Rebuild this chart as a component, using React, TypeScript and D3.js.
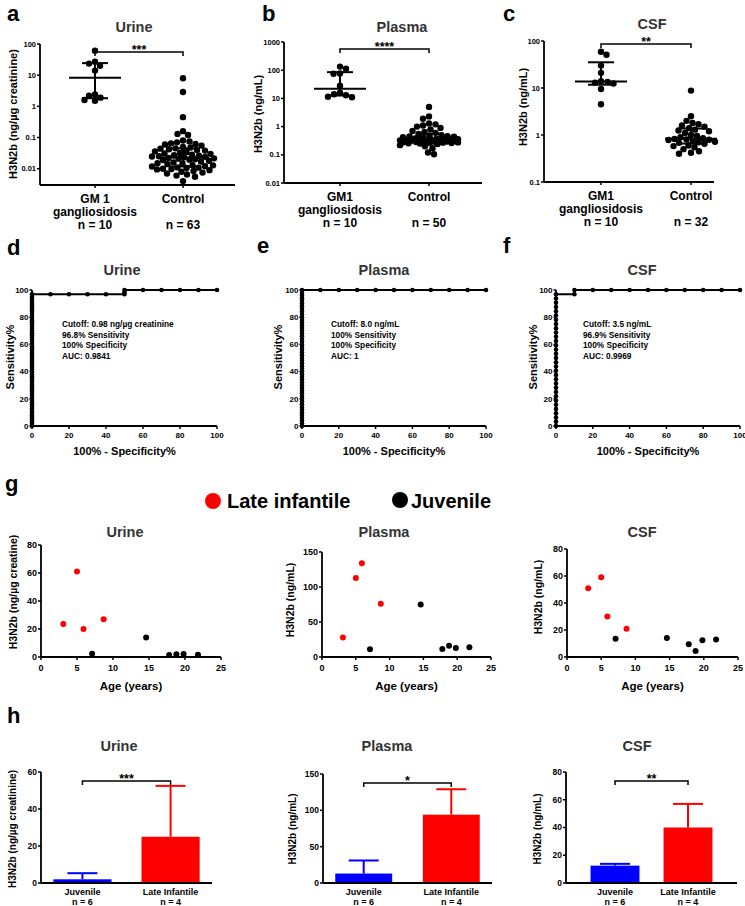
import React from 'react';
import * as d3 from 'd3';

const FONT = "'Liberation Sans', Arial, Helvetica, sans-serif";
const RED = '#ff0000';
const BLUE = '#0000ff';

// GM1 patients, same order in every specimen (4 late infantile, then 6 juvenile)
const patientType = ['Late infantile', 'Late infantile', 'Late infantile', 'Late infantile',
  'Juvenile', 'Juvenile', 'Juvenile', 'Juvenile', 'Juvenile', 'Juvenile'];
const patientAge = [3.1, 5.0, 5.9, 8.7, 7.1, 14.6, 17.8, 18.8, 19.8, 21.8];
const urinePatients = [23.5, 61, 20, 27, 2.4, 14, 1.5, 1.9, 2.2, 1.6];
const plasmaPatients = [28, 113, 134, 76, 11, 75, 11.5, 16, 13, 14];
const csfPatients = [51, 59, 30, 21, 13.5, 14, 9.5, 4.5, 12.5, 13];

// controls
const urineControls = [8.0, 2.9, 0.45, 0.16, 0.13, 0.12, 0.08, 0.075, 0.07, 0.065,
  0.062, 0.06, 0.055, 0.05, 0.048, 0.045, 0.044, 0.042, 0.04, 0.038,
  0.036, 0.034, 0.032, 0.031, 0.03, 0.028, 0.027, 0.026, 0.025, 0.0245,
  0.024, 0.023, 0.022, 0.0215, 0.021, 0.02, 0.0195, 0.019, 0.018, 0.017,
  0.016, 0.015, 0.0148, 0.014, 0.013, 0.0128, 0.012, 0.0118, 0.011, 0.0108,
  0.0105, 0.01, 0.0098, 0.0095, 0.009, 0.0085, 0.008, 0.0075, 0.007, 0.0065,
  0.006, 0.0055, 0.004];
const plasmaControls = [5.0, 2.3, 1.9, 1.3, 1.2, 1.1, 1.0, 0.9, 0.8, 0.7,
  0.65, 0.6, 0.55, 0.5, 0.48, 0.46, 0.45, 0.44, 0.42, 0.4,
  0.38, 0.37, 0.36, 0.35, 0.345, 0.34, 0.335, 0.33, 0.325, 0.32,
  0.315, 0.31, 0.305, 0.3, 0.295, 0.29, 0.285, 0.28, 0.275, 0.27,
  0.265, 0.26, 0.255, 0.25, 0.24, 0.22, 0.2, 0.17, 0.12, 0.105];
const csfControls = [8.8, 2.5, 2.0, 1.8, 1.7, 1.6, 1.5, 1.4, 1.3, 1.25,
  1.2, 1.1, 1.0, 0.95, 0.9, 0.85, 0.82, 0.8, 0.79, 0.78,
  0.75, 0.72, 0.7, 0.68, 0.65, 0.6, 0.58, 0.55, 0.5, 0.45,
  0.42, 0.4];

const cohorts = ['GM1', 'Control'];
const urineLogTicks = [0.01, 0.1, 1, 10, 100];
const plasmaLogTicks = [0.01, 0.1, 1, 10, 100, 1000];
const csfLogTicks = [0.1, 1, 10, 100];
const rocTicks = [0, 20, 40, 60, 80, 100];
const ageTicks = [0, 5, 10, 15, 20, 25];

const urineNotes = ['Cutoff: 0.98 ng/µg creatinine', '96.8% Sensitivity', '100% Specificity', 'AUC: 0.9841'];
const plasmaNotes = ['Cutoff: 8.0 ng/mL', '100% Sensitivity', '100% Specificity', 'AUC: 1'];
const csfNotes = ['Cutoff: 3.5 ng/mL', '96.9% Sensitivity', '100% Specificity', 'AUC: 0.9969'];

// panel h: mean and SD by subtype
const barGroups = ['Juvenile', 'Late Infantile'];
const barN = ['n = 6', 'n = 4'];
const urineMean = [2.0, 25];
const urineSD = [3.3, 27.5];
const plasmaMean = [13, 94];
const plasmaSD = [18, 35];
const csfMean = [12.5, 40];
const csfSD = [1.3, 17];

// Prism style quartile ((n+1)p)
function quart(s: number[], p: number) {
  const n = s.length;
  const pos = (n + 1) * p;
  const lo = Math.floor(pos);
  if (lo < 1) return s[0];
  if (lo >= n) return s[n - 1];
  return s[lo - 1] + (pos - lo) * (s[lo] - s[lo - 1]);
}

// beeswarm around cx, kept within +-maxW (points may overlap when crowded)
function swarm(values: number[], y: any, cx: number, r: number, maxW: number) {
  const pts = values.map(v => ({ v, x: cx, y: y(v) })).sort((a, b) => a.y - b.y);
  const placed: any[] = [];
  const minD = 2 * r * 0.95;
  const offs = d3.range(-maxW, maxW + 0.01, 0.5);
  pts.forEach((p, i) => {
    const order = offs.slice().sort((a, b) => Math.abs(a) - Math.abs(b) || (i % 2 ? b - a : a - b));
    const gap = (o: number) => d3.min(placed, q => Math.hypot(q.x - cx - o, q.y - p.y)) ?? Infinity;
    let hit = order.find(o => gap(o) >= minD);
    if (hit === undefined) hit = d3.greatest(order, o => gap(o)) as number;
    p.x = cx + hit;
    placed.push(p);
  });
  return placed;
}

// ROC points from the two groups
function rocPoints(patients: number[], controls: number[]) {
  const ts = Array.from(new Set([...patients, ...controls])).sort(d3.ascending);
  ts.push(Infinity);
  const out: [number, number][] = [];
  ts.forEach(t => {
    const fpr = patients.filter(v => v < t).length / patients.length * 100;
    const sens = controls.filter(v => v < t).length / controls.length * 100;
    const last = out[out.length - 1];
    if (!last || last[0] !== fpr || last[1] !== sens) out.push([fpr, sens]);
  });
  return out;
}

const Letter = ({ x, y, t }: any) => (
  <text x={x} y={y} fontSize={22} fontWeight="bold">{t}</text>
);
const Title = ({ x, y, t }: any) => (
  <text x={x} y={y} fontSize={14.5} fontWeight="bold" fill="#333" textAnchor="middle">{t}</text>
);
const YLabel = ({ x, y, t, size = 11 }: any) => (
  <text transform={`translate(${x},${y}) rotate(-90)`} dy="0.35em" textAnchor="middle"
    fontSize={size} fontWeight="bold">{t}</text>
);

function YAxis({ scale, x, ticks, size, fmt = String, len = 3 }: any) {
  const [r0, r1] = scale.range();
  return (
    <g>
      <line x1={x} x2={x} y1={r0} y2={r1} stroke="#000" strokeWidth={1.8} />
      {ticks.map((t: number) => (
        <g key={t}>
          <line x1={x - len} x2={x} y1={scale(t)} y2={scale(t)} stroke="#000" strokeWidth={1.5} />
          <text x={x - len - 1} y={scale(t)} dy="0.35em" textAnchor="end" fontSize={size} fontWeight="bold">{fmt(t)}</text>
        </g>
      ))}
    </g>
  );
}

function LogDotPanel({ p }: any) {
  const y = d3.scaleLog().domain(p.domain).range([p.yBottom, p.yTop]);
  const x = d3.scalePoint().domain(cohorts).range(p.centers);
  const groups = [p.patients, p.controls];
  const [ca, cb] = p.centers;
  return (
    <g>
      <Letter x={p.lx} y={p.ly} t={p.letter} />
      <Title x={p.tx} y={p.ty} t={p.title} />
      <YLabel x={p.ylx} y={p.yly} t={p.yLabel} />
      {groups.map((vals: number[], i: number) => {
        const cx = x(cohorts[i]) as number;
        const s = vals.slice().sort(d3.ascending);
        const med = quart(s, 0.5), q1 = quart(s, 0.25), q3 = quart(s, 0.75);
        return (
          <g key={i}>
            {swarm(vals, y, cx, 3.2, p.maxW).map((d, j) => <circle key={j} cx={d.x} cy={d.y} r={3.2} fill="#000" />)}
            <line x1={cx - 26} x2={cx + 26} y1={y(med)} y2={y(med)} stroke="#000" strokeWidth={2} />
            <line x1={cx} x2={cx} y1={y(q1)} y2={y(q3)} stroke="#000" strokeWidth={2} />
            <line x1={cx - 13} x2={cx + 13} y1={y(q1)} y2={y(q1)} stroke="#000" strokeWidth={2} />
            <line x1={cx - 13} x2={cx + 13} y1={y(q3)} y2={y(q3)} stroke="#000" strokeWidth={2} />
          </g>
        );
      })}
      <YAxis scale={y} x={p.x0} ticks={p.ticks} size={7.5} />
      <line x1={p.x0} x2={p.x1} y1={p.yBottom} y2={p.yBottom} stroke="#000" strokeWidth={1.8} />
      {p.catLabels.map((lines: string[], i: number) => {
        const cx = x(cohorts[i]) as number;
        return (
          <g key={i}>
            <line x1={cx} x2={cx} y1={p.yBottom} y2={p.yBottom + 3} stroke="#000" strokeWidth={1.5} />
            {lines.map((t, k) => (
              <text key={k} x={cx} y={p.yBottom + 18 + k * 12.5} textAnchor="middle" fontSize={12} fontWeight="bold">{t}</text>
            ))}
            <text x={cx} y={p.yBottom + 44} textAnchor="middle" fontSize={12} fontWeight="bold">{`n = ${groups[i].length}`}</text>
          </g>
        );
      })}
      <path d={`M${ca},${p.sigY + 4}V${p.sigY}H${cb}V${p.sigY + 4}`} fill="none" stroke="#000" strokeWidth={1.5} />
      <text x={(ca + cb) / 2} y={p.sigY + 1.5} textAnchor="middle" fontSize={12.5} fontWeight="bold">{p.sig}</text>
    </g>
  );
}

function RocPanel({ p }: any) {
  const x = d3.scaleLinear().domain([0, 100]).range([p.x0, p.x1]);
  const y = d3.scaleLinear().domain([0, 100]).range([p.yBottom, p.yTop]);
  const pts = rocPoints(p.patients, p.controls);
  const line = d3.line<[number, number]>().x(d => x(d[0])).y(d => y(d[1]));
  return (
    <g>
      <Letter x={p.lx} y={p.ly} t={p.letter} />
      <Title x={p.tx} y={p.ty} t={p.title} />
      <YLabel x={p.ylx} y={357} t="Sensitivity%" />
      <path d={line(pts) as string} fill="none" stroke="#000" strokeWidth={2} />
      {pts.map((d, i) => <circle key={i} cx={x(d[0])} cy={y(d[1])} r={2.3} fill="#000" />)}
      <YAxis scale={y} x={p.x0} ticks={rocTicks} size={8} len={2.5} />
      <line x1={p.x0} x2={p.x1} y1={p.yBottom} y2={p.yBottom} stroke="#000" strokeWidth={1.8} />
      {rocTicks.map(t => (
        <g key={t}>
          <line x1={x(t)} x2={x(t)} y1={p.yBottom} y2={p.yBottom + 3} stroke="#000" strokeWidth={1.5} />
          <text x={x(t)} y={p.yBottom + 11.5} textAnchor="middle" fontSize={8} fontWeight="bold">{t}</text>
        </g>
      ))}
      <text x={(p.x0 + p.x1) / 2} y={455} textAnchor="middle" fontSize={11} fontWeight="bold">100% - Specificity%</text>
      {p.notes.map((t: string, i: number) => (
        <text key={i} x={p.nx} y={327 + i * 10.5} fontSize={8.3} fontWeight="bold">{t}</text>
      ))}
    </g>
  );
}

function AgePanel({ p }: any) {
  const x = d3.scaleLinear().domain([0, 25]).range([p.x0, p.x1]);
  const y = d3.scaleLinear().domain([0, p.yMax]).range([657, p.yTop]);
  return (
    <g>
      <Title x={p.tx} y={537} t={p.title} />
      <YLabel x={p.ylx} y={p.yly} t={p.yLabel} size={10.5} />
      {p.values.map((v: number, i: number) => (
        <circle key={i} cx={x(patientAge[i])} cy={y(v)} r={3}
          fill={patientType[i] === 'Juvenile' ? '#000' : RED} />
      ))}
      <YAxis scale={y} x={p.x0} ticks={p.ticks} size={9} />
      <line x1={p.x0} x2={p.x1} y1={657} y2={657} stroke="#000" strokeWidth={1.8} />
      {ageTicks.map(t => (
        <g key={t}>
          <line x1={x(t)} x2={x(t)} y1={657} y2={660} stroke="#000" strokeWidth={1.5} />
          <text x={x(t)} y={671} textAnchor="middle" fontSize={9} fontWeight="bold">{t}</text>
        </g>
      ))}
      <text x={(p.x0 + p.x1) / 2} y={690} textAnchor="middle" fontSize={11.5} fontWeight="bold">Age (years)</text>
    </g>
  );
}

function BarPanel({ p }: any) {
  const x = d3.scaleBand().domain(barGroups).range([p.x0, p.x1]).paddingInner(p.pin).paddingOuter(p.pout);
  const y = d3.scaleLinear().domain([0, p.yMax]).range([883, p.yTop]);
  const bw = x.bandwidth();
  const cA = (x(barGroups[0]) as number) + bw / 2;
  const cB = (x(barGroups[1]) as number) + bw / 2;
  const colors = [BLUE, RED];
  return (
    <g>
      <Title x={p.tx} y={751} t={p.title} />
      <YLabel x={p.ylx} y={829} t={p.yLabel} size={10} />
      {barGroups.map((g, i) => {
        const cx = (x(g) as number) + bw / 2;
        const top = y(p.mean[i] + p.sd[i]);
        return (
          <g key={g}>
            <line x1={cx} x2={cx} y1={y(p.mean[i])} y2={top} stroke={colors[i]} strokeWidth={2} />
            <line x1={cx - 15} x2={cx + 15} y1={top} y2={top} stroke={colors[i]} strokeWidth={2} />
            <rect x={x(g)} y={y(p.mean[i])} width={bw} height={883 - y(p.mean[i])} fill={colors[i]} />
            <text x={cx} y={895} textAnchor="middle" fontSize={9} fontWeight="bold">{g}</text>
            <text x={cx} y={905} textAnchor="middle" fontSize={9} fontWeight="bold">{barN[i]}</text>
          </g>
        );
      })}
      <YAxis scale={y} x={p.x0} ticks={p.ticks} size={8.5} />
      <line x1={p.x0} x2={p.x1} y1={883} y2={883} stroke="#000" strokeWidth={1.8} />
      <path d={`M${cA},${p.sigY + 4}V${p.sigY}H${cB}V${p.sigY + 4}`} fill="none" stroke="#000" strokeWidth={1.5} />
      <text x={(cA + cB) / 2} y={p.sigY + 1.5} textAnchor="middle" fontSize={12.5} fontWeight="bold">{p.sig}</text>
    </g>
  );
}

const dotPanels = [
  { letter: 'a', lx: 7, ly: 21, title: 'Urine', tx: 134, ty: 32, yLabel: 'H3N2b (ng/µg creatinine)', ylx: 13, yly: 114,
    domain: [0.003, 100], ticks: urineLogTicks, yTop: 44, yBottom: 185, x0: 40, x1: 235, centers: [95, 183], maxW: 31,
    patients: urinePatients, controls: urineControls, sig: '***', sigY: 52,
    catLabels: [['GM 1', 'gangliosidosis'], ['Control']] },
  { letter: 'b', lx: 262, ly: 21, title: 'Plasma', tx: 402, ty: 32, yLabel: 'H3N2b (ng/mL)', ylx: 258, yly: 114,
    domain: [0.01, 1000], ticks: plasmaLogTicks, yTop: 42, yBottom: 183, x0: 284, x1: 482, centers: [340, 429], maxW: 29,
    patients: plasmaPatients, controls: plasmaControls, sig: '****', sigY: 49,
    catLabels: [['GM1', 'gangliosidosis'], ['Control']] },
  { letter: 'c', lx: 503, ly: 21, title: 'CSF', tx: 652, ty: 29, yLabel: 'H3N2b (ng/mL)', ylx: 523, yly: 107,
    domain: [0.1, 100], ticks: csfLogTicks, yTop: 41, yBottom: 182, x0: 544, x1: 714, centers: [601, 691], maxW: 26,
    patients: csfPatients, controls: csfControls, sig: '**', sigY: 44,
    catLabels: [['GM1', 'gangliosidosis'], ['Control']] },
];

const rocPanels = [
  { letter: 'd', lx: 7, ly: 255, title: 'Urine', tx: 122, ty: 275, ylx: 10, x0: 32, x1: 217, yTop: 290, yBottom: 426,
    patients: urinePatients, controls: urineControls, notes: urineNotes, nx: 62 },
  { letter: 'e', lx: 257, ly: 253, title: 'Plasma', tx: 384, ty: 275, ylx: 278, x0: 302, x1: 486, yTop: 290, yBottom: 426,
    patients: plasmaPatients, controls: plasmaControls, notes: plasmaNotes, nx: 331 },
  { letter: 'f', lx: 503, ly: 253, title: 'CSF', tx: 642, ty: 275, ylx: 533, x0: 556, x1: 740, yTop: 290, yBottom: 426,
    patients: csfPatients, controls: csfControls, notes: csfNotes, nx: 583 },
];

const agePanels = [
  { title: 'Urine', tx: 125, yLabel: 'H3N2b (ng/µg creatine)', ylx: 13, yly: 592, x0: 41, x1: 221, yTop: 545, yMax: 80,
    ticks: [0, 20, 40, 60, 80], values: urinePatients },
  { title: 'Plasma', tx: 384, yLabel: 'H3N2b (ng/mL)', ylx: 290, yly: 600, x0: 322, x1: 491, yTop: 552, yMax: 150,
    ticks: [0, 50, 100, 150], values: plasmaPatients },
  { title: 'CSF', tx: 642, yLabel: 'H3N2b (ng/mL)', ylx: 538, yly: 597, x0: 567, x1: 738, yTop: 549, yMax: 80,
    ticks: [0, 20, 40, 60, 80], values: csfPatients },
];

const barPanels = [
  { title: 'Urine', tx: 119, yLabel: 'H3N2b (ng/µg creatinine)', ylx: 12, x0: 41, x1: 212, yTop: 772, yMax: 60,
    ticks: [0, 20, 40, 60], mean: urineMean, sd: urineSD, pin: 0.34, pout: 0.14, sig: '***', sigY: 781 },
  { title: 'Plasma', tx: 387, yLabel: 'H3N2b (ng/mL)', ylx: 292, x0: 323, x1: 492, yTop: 774, yMax: 150,
    ticks: [0, 50, 100, 150], mean: plasmaMean, sd: plasmaSD, pin: 0.35, pout: 0.14, sig: '*', sigY: 783 },
  { title: 'CSF', tx: 637, yLabel: 'H3N2b (ng/mL)', ylx: 537, x0: 566, x1: 737, yTop: 772, yMax: 80,
    ticks: [0, 20, 40, 60, 80], mean: csfMean, sd: csfSD, pin: 0.33, pout: 0.336, sig: '**', sigY: 781 },
];

export default function App() {
  return (
    <svg width={745} height={906} style={{ position: 'absolute', left: 0, top: 0, background: '#fff' }}
      fontFamily={FONT}>
      {dotPanels.map(p => <LogDotPanel key={p.letter} p={p} />)}
      {rocPanels.map(p => <RocPanel key={p.letter} p={p} />)}

      <Letter x={5} y={491} t="g" />
      <circle cx={213} cy={501} r={8} fill={RED} />
      <text x={227} y={508} fontSize={20} fontWeight="bold">Late infantile</text>
      <circle cx={400} cy={500} r={8} fill="#000" />
      <text x={411} y={508} fontSize={20} fontWeight="bold">Juvenile</text>
      {agePanels.map(p => <AgePanel key={p.title} p={p} />)}

      <Letter x={7} y={723} t="h" />
      {barPanels.map(p => <BarPanel key={p.title} p={p} />)}
    </svg>
  );
}
